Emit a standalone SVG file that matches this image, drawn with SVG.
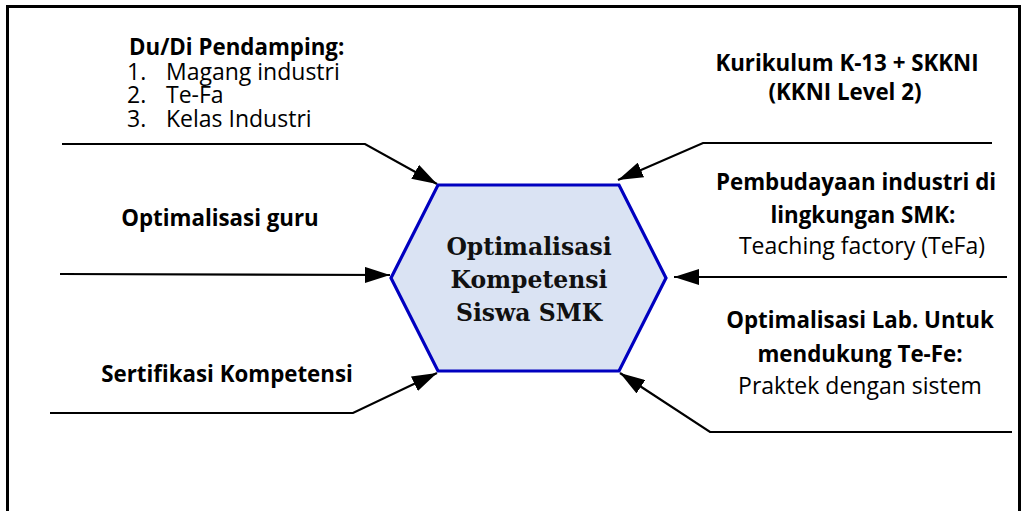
<svg xmlns="http://www.w3.org/2000/svg" width="1026" height="511" viewBox="0 0 1026 511">
<style>
.t{font-family:"Open Sans","Noto Sans",sans-serif;font-size:23px;fill:#000}
.b{font-weight:bold;font-size:22.3px}
.c{text-anchor:middle}
.hex{font-family:"DejaVu Serif","Liberation Serif",serif;font-weight:bold;font-size:23.5px;text-anchor:middle;fill:#111}
.ln{fill:none;stroke:#000;stroke-width:2.2}
</style>
<defs>
<marker id="ah" viewBox="0 0 25 16" refX="25" refY="8" markerWidth="25" markerHeight="16" markerUnits="userSpaceOnUse" orient="auto">
<path d="M0,0 L25,8 L0,16 Z" fill="#000"/>
</marker>
</defs>
<rect x="0" y="0" width="1026" height="511" fill="#fff"/>
<rect id="frame" x="7.5" y="6.5" width="1012" height="520" fill="none" stroke="#000" stroke-width="3"/>
<g id="connectors">
<polyline class="ln" points="62,144 365,144 437,184" marker-end="url(#ah)"/>
<polyline class="ln" points="992,143 703,143 618,180" marker-end="url(#ah)"/>
<polyline class="ln" points="60,274 390,275" marker-end="url(#ah)"/>
<polyline class="ln" points="1007,277 674,277" marker-end="url(#ah)"/>
<polyline class="ln" points="50,413 353,413 437,373" marker-end="url(#ah)"/>
<polyline class="ln" points="1012,432 710,432 620,373" marker-end="url(#ah)"/>
</g>
<g id="center">
<polygon points="438,185 619,185 666,278 619,371 438,371 391,278" fill="#DAE3F3" stroke="#0000C0" stroke-width="3.2"/>
<text class="hex" x="529" y="255">Optimalisasi</text>
<text class="hex" x="529" y="288">Kompetensi</text>
<text class="hex" x="529" y="321">Siswa SMK</text>
</g>
<g id="dudi">
<text class="t" x="129" y="55"><tspan class="b">Du/Di Pendamping:</tspan><tspan x="127" y="80">1.</tspan><tspan x="166" y="80">Magang industri</tspan><tspan x="127" y="103">2.</tspan><tspan x="166" y="103">Te-Fa</tspan><tspan x="127" y="127">3.</tspan><tspan x="166" y="127">Kelas Industri</tspan></text>
</g>
<g id="kurikulum">
<text class="t b c" x="847" y="71">Kurikulum K-13 + SKKNI</text>
<text class="t b c" x="845" y="100">(KKNI Level 2)</text>
</g>
<g id="guru">
<text class="t b c" x="220" y="226">Optimalisasi guru</text>
</g>
<g id="pembudayaan">
<text class="t b c" x="856" y="190">Pembudayaan industri di</text>
<text class="t b c" x="863" y="223">lingkungan SMK:</text>
<text class="t c" x="862" y="254">Teaching factory (TeFa)</text>
</g>
<g id="sertifikasi">
<text class="t b c" x="227" y="382">Sertifikasi Kompetensi</text>
</g>
<g id="lab">
<text class="t b c" x="860" y="328">Optimalisasi Lab. Untuk</text>
<text class="t b c" x="860" y="362">mendukung Te-Fe:</text>
<text class="t c" x="860" y="394">Praktek dengan sistem</text>
</g>
</svg>
